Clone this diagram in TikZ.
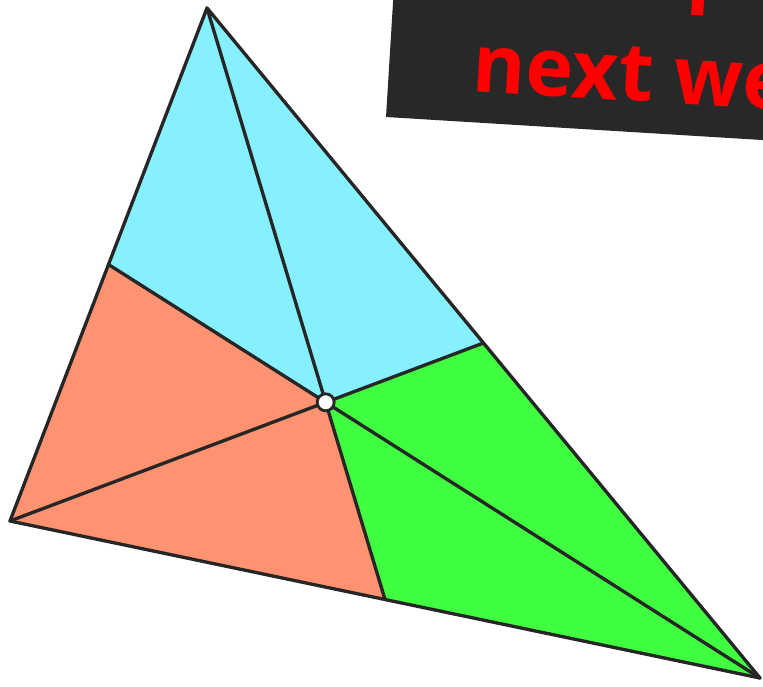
\documentclass[tikz,border=0pt]{standalone}
\usepackage{fontspec}
\setmainfont{Open Sans}
\usepackage{xcolor}
\usepackage{tikz}
\usetikzlibrary{calc}

\definecolor{edgegray}{HTML}{262626}
\definecolor{bannergray}{HTML}{282828}
\definecolor{topcyan}{HTML}{87F0FF}
\definecolor{leftsalmon}{HTML}{FF9270}
\definecolor{rightgreen}{HTML}{40FF40}

\begin{document}
\begin{tikzpicture}[
    x=0.02cm, y=-0.02cm,
    edge/.style={draw=edgegray, line width=1.9pt, line join=round, line cap=round},
    bannertext/.style={text=red, font=\fontsize{46}{55}\selectfont\bfseries, inner sep=0pt, rotate=-3.5, anchor=base west},
    centroid/.style={circle, draw=edgegray, fill=white, line width=1.6pt, minimum size=0.34cm, inner sep=0pt},
]
\useasboundingbox (0,0) rectangle (763,686);
\clip (0,0) rectangle (763,686);

% corners and midpoints
\coordinate (A) at (207,8);
\coordinate (B) at (10,521);
\coordinate (C) at (760,678);
\coordinate (mAB) at ($(A)!0.5!(B)$);
\coordinate (mAC) at ($(A)!0.5!(C)$);
\coordinate (mBC) at ($(B)!0.5!(C)$);
\coordinate (G) at ($1/3*(A)+1/3*(B)+1/3*(C)$);

% banner
\fill[bannergray, rotate around={-3.5:(386,117)}] (386,117) rectangle (900,-120);
\node[bannertext] (upper) at (686,-5) {p};
\node[bannertext] (lower) at (471,91) {next week};

% pieces
\fill[topcyan] (A) -- (mAB) -- (G) -- (mAC) -- cycle;
\fill[leftsalmon] (B) -- (mAB) -- (G) -- (mBC) -- cycle;
\fill[rightgreen] (C) -- (mAC) -- (G) -- (mBC) -- cycle;

% medians and sides
\draw[edge] (A) -- (mBC);
\draw[edge] (B) -- (mAC);
\draw[edge] (C) -- (mAB);
\draw[edge] (A) -- (B) -- (C) -- cycle;

\node[centroid] (dot) at (G) {};
\end{tikzpicture}
\end{document}
